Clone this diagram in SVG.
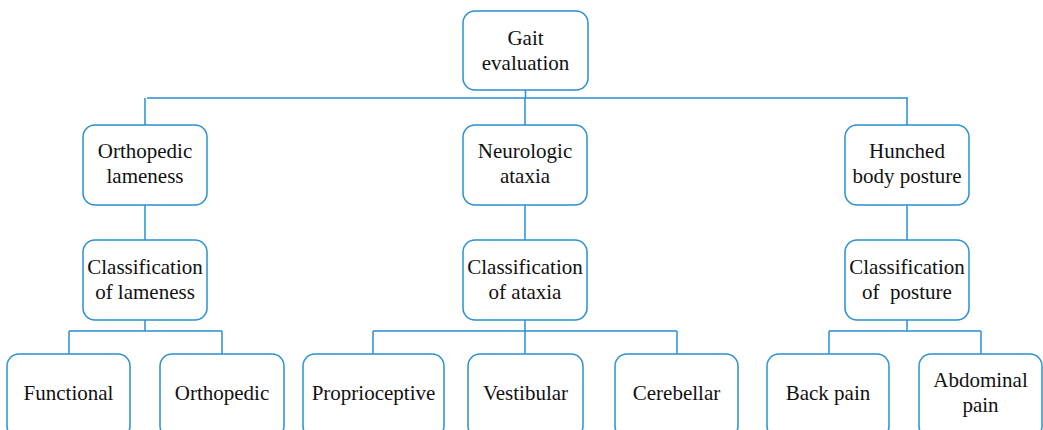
<svg xmlns="http://www.w3.org/2000/svg" width="1043" height="430" viewBox="0 0 1043 430">
<style>
.box{fill:#fff;stroke:#2b8fd1;stroke-width:1.5}
.ln{fill:none;stroke:#2b8fd1;stroke-width:1.5}
.t{font-size:21px;fill:#111;text-anchor:middle}
</style>
<rect width="1043" height="430" fill="#fff"/>
<g id="connectors" class="ln">
<path d="M525.5 90V98M147 98H908M145 98V125M525 98V125M907 98V125"/>
<path d="M145 205V240M525 205V240M907 205V240"/>
<path d="M145 320V331M69 331H222M69 331V354M222 331V354"/>
<path d="M525 320V331M373 331H677M373 331V354M525 331V354M677 331V354"/>
<path d="M907 320V331M829 331H981M829 331V354M981 331V354"/>
</g>
<g class="t" font-family="'Liberation Serif', 'Times New Roman', serif">
<g id="gait"><rect class="box" x="463" y="11" width="125" height="79" rx="12"/><text x="525.5" y="45">Gait</text><text x="525.5" y="70">evaluation</text></g>
<g id="ortho"><rect class="box" x="83" y="125" width="124" height="80" rx="12"/><text x="145" y="158">Orthopedic</text><text x="145" y="183">lameness</text></g>
<g id="neuro"><rect class="box" x="463" y="125" width="124" height="80" rx="12"/><text x="525" y="158">Neurologic</text><text x="525" y="183">ataxia</text></g>
<g id="hunched"><rect class="box" x="845" y="125" width="124" height="80" rx="12"/><text x="907" y="158">Hunched</text><text x="907" y="183">body posture</text></g>
<g id="classLame"><rect class="box" x="83" y="240" width="124" height="80" rx="12"/><text x="145" y="274">Classification</text><text x="145" y="299">of lameness</text></g>
<g id="classAtaxia"><rect class="box" x="463" y="240" width="124" height="80" rx="12"/><text x="525" y="274">Classification</text><text x="525" y="299">of ataxia</text></g>
<g id="classPosture"><rect class="box" x="845" y="240" width="124" height="80" rx="12"/><text x="907" y="274">Classification</text><text x="907" y="299" xml:space="preserve">of  posture</text></g>
<g id="functional"><rect class="box" x="7" y="354" width="123" height="84" rx="12"/><text x="68.5" y="400">Functional</text></g>
<g id="orthopedic"><rect class="box" x="160" y="354" width="124" height="84" rx="12"/><text x="222" y="400">Orthopedic</text></g>
<g id="proprio"><rect class="box" x="303" y="354" width="141" height="84" rx="12"/><text x="373.5" y="400">Proprioceptive</text></g>
<g id="vestib"><rect class="box" x="468" y="354" width="115" height="84" rx="12"/><text x="525.5" y="400">Vestibular</text></g>
<g id="cereb"><rect class="box" x="615" y="354" width="123" height="84" rx="12"/><text x="676.5" y="400">Cerebellar</text></g>
<g id="back"><rect class="box" x="767" y="354" width="122" height="84" rx="12"/><text x="828" y="400">Back pain</text></g>
<g id="abdominal"><rect class="box" x="919" y="354" width="123" height="84" rx="12"/><text x="980.5" y="387">Abdominal</text><text x="980.5" y="412">pain</text></g>
</g>
</svg>
